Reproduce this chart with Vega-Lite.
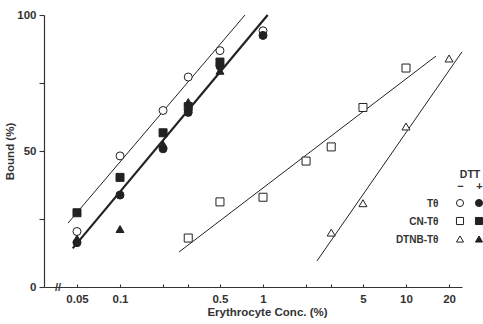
{
  "$schema": "https://vega.github.io/schema/vega-lite/v6.json",
  "autosize": {"type": "none"},
  "width": 418,
  "height": 272,
  "padding": {"left": 44, "top": 15, "right": 21, "bottom": 37},
  "background": "white",
  "config": {
    "view": {"stroke": null},
    "font": "Liberation Sans",
    "axis": {
      "grid": false,
      "labelFont": "Liberation Sans",
      "labelFontWeight": "bold",
      "labelFontSize": 11.5,
      "labelColor": "#333",
      "titleFont": "Liberation Sans",
      "titleFontWeight": "bold",
      "titleFontSize": 11.5,
      "titleColor": "#333",
      "domainColor": "#333",
      "tickColor": "#333",
      "domainWidth": 1.2,
      "tickWidth": 1.1
    }
  },
  "datasets": {
    "points": [
      {"compound": "Tθ", "dtt": "−", "conc": 0.05, "bound": 20.4},
      {"compound": "Tθ", "dtt": "−", "conc": 0.1, "bound": 48.2},
      {"compound": "Tθ", "dtt": "−", "conc": 0.2, "bound": 64.9},
      {"compound": "Tθ", "dtt": "−", "conc": 0.3, "bound": 77.2},
      {"compound": "Tθ", "dtt": "−", "conc": 0.5, "bound": 86.9},
      {"compound": "Tθ", "dtt": "−", "conc": 1, "bound": 94.2},
      {"compound": "Tθ", "dtt": "+", "conc": 0.05, "bound": 16.3},
      {"compound": "Tθ", "dtt": "+", "conc": 0.1, "bound": 33.8},
      {"compound": "Tθ", "dtt": "+", "conc": 0.2, "bound": 50.8},
      {"compound": "Tθ", "dtt": "+", "conc": 0.3, "bound": 64.2},
      {"compound": "Tθ", "dtt": "+", "conc": 0.5, "bound": 81.2},
      {"compound": "Tθ", "dtt": "+", "conc": 1, "bound": 92.5},
      {"compound": "CN-Tθ", "dtt": "−", "conc": 0.3, "bound": 18},
      {"compound": "CN-Tθ", "dtt": "−", "conc": 0.5, "bound": 31.3},
      {"compound": "CN-Tθ", "dtt": "−", "conc": 1, "bound": 33},
      {"compound": "CN-Tθ", "dtt": "−", "conc": 2, "bound": 46.3},
      {"compound": "CN-Tθ", "dtt": "−", "conc": 3, "bound": 51.5},
      {"compound": "CN-Tθ", "dtt": "−", "conc": 5, "bound": 66},
      {"compound": "CN-Tθ", "dtt": "−", "conc": 10, "bound": 80.5},
      {"compound": "CN-Tθ", "dtt": "+", "conc": 0.05, "bound": 27.3},
      {"compound": "CN-Tθ", "dtt": "+", "conc": 0.1, "bound": 40.3},
      {"compound": "CN-Tθ", "dtt": "+", "conc": 0.2, "bound": 56.7},
      {"compound": "CN-Tθ", "dtt": "+", "conc": 0.3, "bound": 66.3},
      {"compound": "CN-Tθ", "dtt": "+", "conc": 0.5, "bound": 82.7},
      {"compound": "DTNB-Tθ", "dtt": "−", "conc": 3, "bound": 20},
      {"compound": "DTNB-Tθ", "dtt": "−", "conc": 5, "bound": 30.8},
      {"compound": "DTNB-Tθ", "dtt": "−", "conc": 10, "bound": 59},
      {"compound": "DTNB-Tθ", "dtt": "−", "conc": 20, "bound": 84},
      {"compound": "DTNB-Tθ", "dtt": "+", "conc": 0.05, "bound": 17.8},
      {"compound": "DTNB-Tθ", "dtt": "+", "conc": 0.1, "bound": 21.3},
      {"compound": "DTNB-Tθ", "dtt": "+", "conc": 0.2, "bound": 52.5},
      {"compound": "DTNB-Tθ", "dtt": "+", "conc": 0.3, "bound": 68},
      {"compound": "DTNB-Tθ", "dtt": "+", "conc": 0.5, "bound": 79.5}
    ],
    "lines": [
      {"line": "Tθ −", "conc": 0.0433, "bound": 23.5},
      {"line": "Tθ −", "conc": 0.748, "bound": 100},
      {"line": "Tθ +", "conc": 0.0467, "bound": 14.2},
      {"line": "Tθ +", "conc": 1.078, "bound": 100},
      {"line": "CN-Tθ −", "conc": 0.259, "bound": 12.9},
      {"line": "CN-Tθ −", "conc": 16.2, "bound": 84.9},
      {"line": "DTNB-Tθ −", "conc": 2.386, "bound": 9.6},
      {"line": "DTNB-Tθ −", "conc": 24.6, "bound": 86.4}
    ],
    "legend": [
      {"compound": "Tθ", "dtt": "−"},
      {"compound": "Tθ", "dtt": "+"},
      {"compound": "CN-Tθ", "dtt": "−"},
      {"compound": "CN-Tθ", "dtt": "+"},
      {"compound": "DTNB-Tθ", "dtt": "−"},
      {"compound": "DTNB-Tθ", "dtt": "+"}
    ],
    "brk": [{"mark": "axis break"}]
  },
  "layer": [
    {
      "layer": [
        {
          "data": {"name": "lines"},
          "mark": {"type": "line", "color": "#222"},
          "encoding": {
            "x": {"field": "conc", "type": "quantitative"},
            "y": {"field": "bound", "type": "quantitative"},
            "detail": {"field": "line"},
            "strokeWidth": {
              "field": "line", "type": "nominal",
              "scale": {"type": "ordinal", "domain": ["Tθ −", "Tθ +", "CN-Tθ −", "DTNB-Tθ −"], "range": [1, 2.2, 1, 1]},
              "legend": null
            }
          }
        },
        {
          "data": {"name": "points"},
          "mark": {"type": "point", "filled": true, "stroke": "#222", "strokeWidth": 1, "size": 64, "opacity": 1},
          "encoding": {
            "x": {"field": "conc", "type": "quantitative"},
            "y": {"field": "bound", "type": "quantitative"},
            "shape": {
              "field": "compound", "type": "nominal",
              "scale": {"domain": ["Tθ", "CN-Tθ", "DTNB-Tθ"], "range": ["circle", "square", "triangle-up"]},
              "legend": null
            },
            "fill": {
              "field": "dtt", "type": "nominal",
              "scale": {"domain": ["−", "+"], "range": ["white", "#222"]},
              "legend": null
            }
          }
        },
        {
          "data": {"name": "brk"},
          "mark": {"type": "text", "text": "//", "fontSize": 11, "fontWeight": "bold", "color": "#333", "baseline": "middle", "align": "center", "dy": 0.5},
          "encoding": {
            "x": {"datum": 0.0368, "type": "quantitative"},
            "y": {"datum": 0, "type": "quantitative"}
          }
        }
      ],
      "encoding": {
        "x": {
          "type": "quantitative",
          "title": "Erythrocyte Conc. (%)",
          "scale": {"type": "log", "domain": [0.0294, 24.64], "nice": false},
          "axis": {
            "orient": "bottom",
            "values": [0.05, 0.1, 0.2, 0.3, 0.5, 1, 2, 3, 5, 10, 20],
            "format": "~g",
            "labelExpr": "(datum.value == 0.2 || datum.value == 0.3 || datum.value == 2 || datum.value == 3) ? '' : datum.label",
            "tickSize": -3,
            "labelPadding": 9,
            "labelFlush": false,
            "labelOverlap": false,
            "titleX": 223,
            "titlePadding": 2
          }
        },
        "y": {
          "type": "quantitative",
          "title": "Bound (%)",
          "scale": {"domain": [0, 100], "nice": false},
          "axis": {
            "orient": "left",
            "values": [0, 25, 50, 75, 100],
            "labelExpr": "datum.value % 50 == 0 ? datum.label : ''",
            "tickSize": 5,
            "labelPadding": 3,
            "titlePadding": 1
          }
        }
      }
    },
    {
      "data": {"name": "legend"},
      "mark": {"type": "point", "filled": true, "stroke": "#222", "strokeWidth": 1, "size": 50, "opacity": 1},
      "encoding": {
        "x": {
          "field": "dtt", "type": "nominal", "title": "DTT",
          "scale": {"type": "point", "domain": ["−", "+"], "range": [416, 435], "padding": 0},
          "axis": {
            "orient": "top", "offset": -178, "ticks": false, "domain": false,
            "labelPadding": 2, "labelFontSize": 11, "labelAngle": 0,
            "titleFontSize": 10.5, "titlePadding": 1
          }
        },
        "y": {
          "field": "compound", "type": "nominal",
          "scale": {"type": "point", "domain": ["Tθ", "CN-Tθ", "DTNB-Tθ"], "range": [188, 224], "padding": 0},
          "axis": {
            "orient": "left", "offset": -394, "ticks": false, "domain": false,
            "labelPadding": 0, "labelFontSize": 10, "title": null
          }
        },
        "shape": {
          "field": "compound", "type": "nominal",
          "scale": {"domain": ["Tθ", "CN-Tθ", "DTNB-Tθ"], "range": ["circle", "square", "triangle-up"]},
          "legend": null
        },
        "fill": {
          "field": "dtt", "type": "nominal",
          "scale": {"domain": ["−", "+"], "range": ["white", "#222"]},
          "legend": null
        }
      }
    }
  ],
  "resolve": {"scale": {"x": "independent", "y": "independent"}, "axis": {"x": "independent", "y": "independent"}}
}
